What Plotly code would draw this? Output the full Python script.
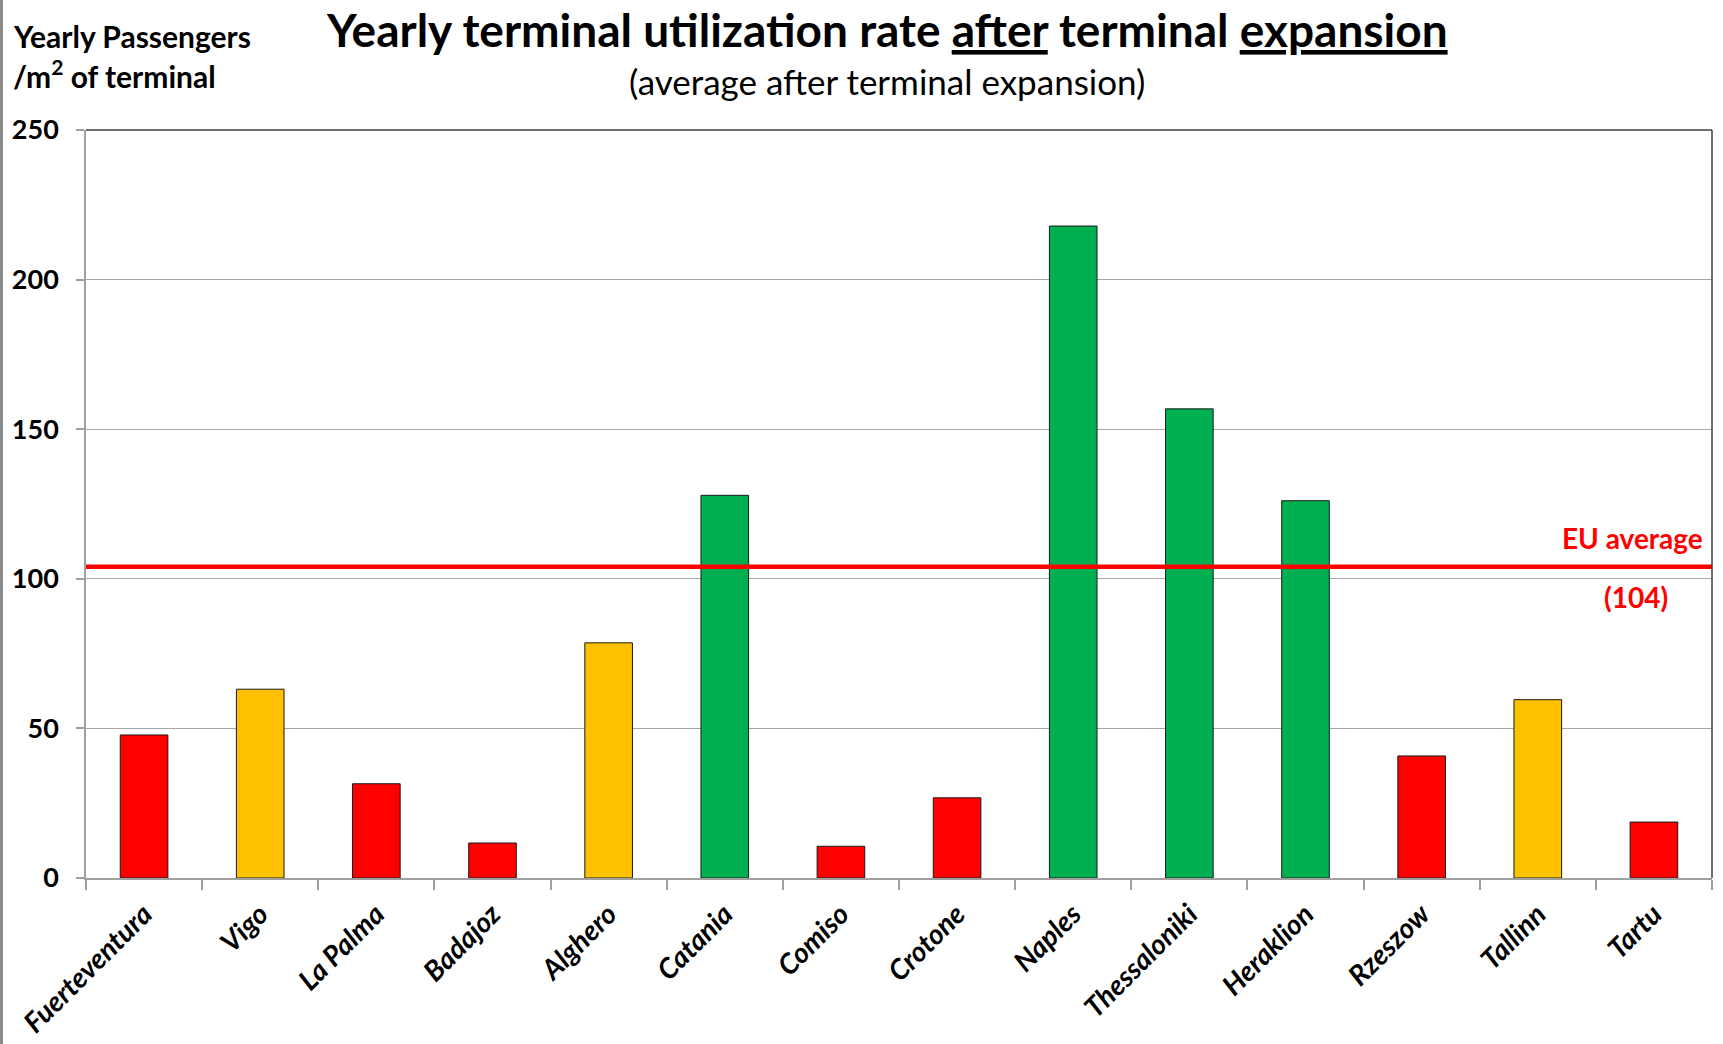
import plotly.graph_objects as go

# Terminal utilization after expansion, yearly passengers per m² of terminal
airports = ["Fuerteventura", "Vigo", "La Palma", "Badajoz", "Alghero", "Catania", "Comiso",
            "Crotone", "Naples", "Thessaloniki", "Heraklion", "Rzeszow", "Tallinn", "Tartu"]
passengers_per_m2 = [47.8, 63.1, 31.5, 11.7, 78.6, 127.9, 10.6,
                     26.8, 217.9, 156.8, 126.1, 40.8, 59.6, 18.7]
# rating of each airport: under-used, moderate, well-used
rating = ["low", "mid", "low", "low", "mid", "high", "low",
          "low", "high", "high", "high", "low", "mid", "low"]
eu_average = 104
y_ticks = [0, 50, 100, 150, 200, 250]

rating_colors = {"low": "#FF0000", "mid": "#FFC000", "high": "#00B050"}
FONT = "Lato"

W, H = 1723, 1044
ML, MR, MT, MB = 86, 11, 130, 166
PW, PH = W - ML - MR, H - MT - MB


def px_x(px):
    return (px - ML) / PW


def px_y(py):
    return (H - MB - py) / PH


fig = go.Figure()
fig.add_trace(go.Bar(
    x=airports,
    y=passengers_per_m2,
    marker=dict(color=[rating_colors[r] for r in rating],
                line=dict(color="#1a1a1a", width=1)),
    hoverinfo="x+y",
))

shapes = [
    # EU average reference line
    dict(type="line", xref="paper", yref="y", x0=0, x1=1, y0=eu_average, y1=eu_average,
         line=dict(color="#FF0000", width=4.5), layer="above"),
    # top and right frame of the plot area
    dict(type="line", xref="paper", yref="paper", x0=0, x1=1, y0=1, y1=1,
         line=dict(color="#404040", width=1.5)),
    dict(type="line", xref="paper", yref="paper", x0=1, x1=1, y0=0, y1=1,
         line=dict(color="#404040", width=1.5)),
    # slide edge on the left
    dict(type="rect", xref="paper", yref="paper", x0=px_x(0), x1=px_x(3),
         y0=px_y(H), y1=px_y(0), fillcolor="#8c8c8c", line=dict(width=0)),
]

annotations = [
    dict(text="Yearly terminal utilization rate <u>after</u> terminal <u>expansion</u>",
         x=px_x(887), y=px_y(30), xref="paper", yref="paper", showarrow=False,
         xanchor="center", yanchor="middle",
         font=dict(family=FONT, size=46, color="black", weight="bold")),
    dict(text="(average after terminal expansion)",
         x=px_x(887), y=px_y(81), xref="paper", yref="paper", showarrow=False,
         xanchor="center", yanchor="middle",
         font=dict(family=FONT, size=35, color="black")),
    dict(text="Yearly Passengers",
         x=px_x(11), y=px_y(36), xref="paper", yref="paper", showarrow=False,
         xanchor="left", yanchor="middle",
         font=dict(family=FONT, size=30, color="black", weight="bold")),
    dict(text="/m<sup>2</sup> of terminal",
         x=px_x(11), y=px_y(74), xref="paper", yref="paper", showarrow=False,
         xanchor="left", yanchor="middle",
         font=dict(family=FONT, size=30, color="black", weight="bold")),
    dict(text="EU average",
         x=px_x(1705), y=eu_average, xref="paper", yref="y", showarrow=False,
         xanchor="right", yanchor="bottom", yshift=10,
         font=dict(family=FONT, size=28, color="#FF0000", weight="bold")),
    dict(text=f"({eu_average})",
         x=px_x(1636), y=eu_average, xref="paper", yref="y", showarrow=False,
         xanchor="center", yanchor="top", yshift=-11,
         font=dict(family=FONT, size=28, color="#FF0000", weight="bold")),
]

fig.update_layout(
    width=W, height=H,
    margin=dict(l=ML, r=MR, t=MT, b=MB, pad=0, autoexpand=False),
    paper_bgcolor="white", plot_bgcolor="white",
    showlegend=False,
    bargap=0.59,
    shapes=shapes,
    annotations=annotations,
    font=dict(family=FONT, color="black"),
)

fig.update_xaxes(
    type="category", automargin=False,
    showline=True, linecolor="#A0A0A0", linewidth=1.5,
    ticks="outside", tickson="boundaries", ticklen=10, tickcolor="#A0A0A0", tickwidth=1.5,
    tickangle=-45,
    tickfont=dict(family=FONT, size=28, color="black", weight="bold", style="italic"),
    ticklabelstandoff=7,
    showgrid=False,
)
fig.update_yaxes(
    range=[0, 250], tickvals=y_ticks, automargin=False,
    showline=True, linecolor="#A0A0A0", linewidth=1.5,
    ticks="outside", ticklen=8, tickcolor="#A0A0A0", tickwidth=1.5,
    showgrid=True, gridcolor="#A6A6A6", gridwidth=1.2,
    zeroline=False,
    tickfont=dict(family=FONT, size=27, color="black", weight="bold"),
    ticklabelstandoff=12,
)

fig.write_html("out.html")
